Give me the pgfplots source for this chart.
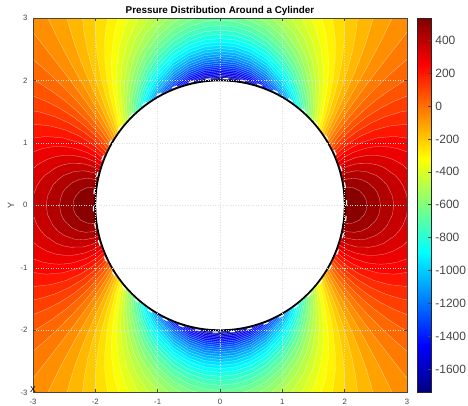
\documentclass[border=0pt]{standalone}
\usepackage{pgfplots}
\usepackage{fontspec}
\setmainfont{Liberation Sans}
\pgfplotsset{compat=1.18}
\definecolor{axc}{gray}{0.27}
\newcommand\band[4]{%
\addplot[fill={rgb,1:red,#1;green,#2;blue,#3},draw=white,draw opacity=0.6,line width=0.22pt] table[row sep=crcr,x expr=\thisrowno{0},y expr=\thisrowno{1}]{#4};
\addplot[fill={rgb,1:red,#1;green,#2;blue,#3},draw=white,draw opacity=0.6,line width=0.22pt] table[row sep=crcr,x expr=-\thisrowno{0},y expr=\thisrowno{1}]{#4};
\addplot[fill={rgb,1:red,#1;green,#2;blue,#3},draw=white,draw opacity=0.6,line width=0.22pt] table[row sep=crcr,x expr=\thisrowno{0},y expr=-\thisrowno{1}]{#4};
\addplot[fill={rgb,1:red,#1;green,#2;blue,#3},draw=white,draw opacity=0.6,line width=0.22pt] table[row sep=crcr,x expr=-\thisrowno{0},y expr=-\thisrowno{1}]{#4};
}
\begin{document}
\begin{tikzpicture}
\path[use as bounding box] (-24.75pt,-10pt) rectangle (326.25pt,294.5pt);
\begin{axis}[
 at={(0,0)},anchor=south west,scale only axis,width=280.5pt,height=281pt,
 xmin=-3,xmax=3,ymin=-3,ymax=3,
 xtick={-3,...,3},ytick={-3,...,3},
 grid=major,axis on top,
 grid style={color=black!12,line width=0.4pt,dash pattern=on 0.6pt off 1.3pt},
 tick align=inside,major tick length=2.4pt,
 tick style={color=axc,line width=0.45pt},
 axis line style={color=axc,line width=0.7pt},
 ticklabel style={font=\fontsize{5.8}{7}\selectfont,text=axc},
 /pgf/number format/assume math mode=true,
 xticklabel style={yshift=-1.2pt},
 yticklabel style={xshift=-0.6pt},
 title={\textbf{Pressure Distribution Around a Cylinder}},
 title style={font=\fontsize{7.4}{8}\selectfont,yshift=-7.5pt},
 ylabel={Y},ylabel style={font=\fontsize{6.8}{8}\selectfont,text=axc,at={(axis description cs:-0.059,0.5)},anchor=center},
 xlabel={X},xlabel style={font=\fontsize{6.4}{7}\selectfont,text=black,at={(axis description cs:0,0)},anchor=center,yshift=2.5pt},
 colormap/jet,point meta min=-1742,point meta max=535,
 colorbar,
 colorbar style={at={(parent axis.north east)},anchor=north west,xshift=-0.8pt,
  width=10.6pt,height=281pt,scale only axis,
  ytick={-1600,-1400,...,400},
  ytick pos=right,tick align=inside,yticklabel pos=right,
  major tick length=2.6pt,
  tick style={color=axc,line width=0.45pt},
  axis line style={color=black!85,line width=0.7pt},
  grid=none,
  yticklabel style={font=\fontsize{9}{10}\selectfont,text=axc,/pgf/number format/assume math mode=true,/pgf/number format/1000 sep={},xshift=-0.6pt},
 },
]
\addplot[draw=none,fill={rgb,1:red,1;green,0.480;blue,0}] coordinates {(-3,-3)(3,-3)(3,3)(-3,3)};
% right and left lobes, pressure above each level
\band{1}{0.402}{0}{3.6 -0.02\\3.6 2.462\\3.153 2.462\\2.959 2.303\\2.771 2.139\\2.587 1.968\\2.408 1.789\\2.234 1.603\\2.066 1.408\\1.936 1.242\\1.841 1.110\\1.749 0.970\\0 0\\}
\band{1}{0.324}{0}{3.6 -0.02\\3.6 2.082\\3.119 2.082\\2.901 1.959\\2.691 1.823\\2.489 1.675\\2.296 1.513\\2.112 1.338\\1.971 1.185\\1.869 1.062\\1.771 0.929\\0 0\\}
\band{1}{0.245}{0}{3.6 -0.02\\3.6 1.834\\3.271 1.834\\3.025 1.761\\2.790 1.666\\2.567 1.552\\2.356 1.418\\2.157 1.264\\2.006 1.126\\1.897 1.011\\1.793 0.886\\0 0\\}
\band{1}{0.167}{0}{3.6 -0.02\\3.6 1.538\\3.144 1.538\\2.887 1.493\\2.644 1.418\\2.415 1.315\\2.201 1.186\\2.039 1.063\\1.925 0.958\\1.815 0.840\\0 0\\}
\band{1}{0.088}{0}{3.6 -0.02\\3.6 1.277\\3.259 1.277\\2.980 1.298\\2.718 1.270\\2.472 1.204\\2.244 1.103\\2.073 0.997\\1.952 0.902\\1.836 0.792\\0 0\\}
\band{1}{0.010}{0}{3.93 -0.02\\3.93 0\\3.370 0.946\\3.070 1.066\\2.790 1.103\\2.528 1.081\\2.286 1.012\\2.106 0.925\\1.978 0.842\\1.858 0.741\\0 0\\}
\band{0.931}{0}{0}{3.569 -0.02\\3.569 0\\3.158 0.768\\3.006 0.853\\2.860 0.905\\2.719 0.934\\2.583 0.943\\2.453 0.935\\2.328 0.912\\2.138 0.848\\2.005 0.777\\1.879 0.686\\0 0\\}
\band{0.853}{0}{0}{3.272 -0.02\\3.272 0\\3.230 0.25\\3.115 0.470\\2.929 0.650\\2.780 0.733\\2.637 0.780\\2.500 0.801\\2.368 0.801\\2.170 0.763\\2.030 0.707\\1.899 0.626\\0 0\\}
\band{0.775}{0}{0}{3.015 -0.02\\3.015 0\\2.996 0.16\\2.933 0.320\\2.881 0.40\\2.809 0.481\\2.631 0.605\\2.518 0.648\\2.408 0.670\\2.201 0.667\\2.056 0.628\\1.920 0.560\\0 0\\}
\band{0.696}{0}{0}{2.787 -0.02\\2.787 0\\2.766 0.15\\2.680 0.324\\2.591 0.42\\2.504 0.480\\2.338 0.542\\2.181 0.553\\2.033 0.525\\1.940 0.485\\0 0\\}
\band{0.618}{0}{0}{2.574 -0.02\\2.574 0\\2.556 0.12\\2.524 0.20\\2.487 0.258\\2.372 0.363\\2.263 0.413\\2.157 0.431\\2.057 0.4245\\1.960 0.396\\0 0\\}
\band{0.539}{0}{0}{2.357 -0.02\\2.357 0\\2.346 0.08\\2.315 0.150\\2.238 0.2345\\2.131 0.284\\2.029 0.290\\1.980 0.280\\0 0\\}
% top and bottom lobes, pressure below each level
\band{1}{0.559}{0}{-0.02 3.8\\3.5 3.8\\3.135 2.943\\2.947 2.704\\2.791 2.505\\2.635 2.304\\2.479 2.102\\2.324 1.897\\2.170 1.688\\2.019 1.474\\1.900 1.296\\1.812 1.157\\1.726 1.010\\0 0\\}
\band{1}{0.637}{0}{-0.02 3.8\\2.855 3.8\\2.855 3.215\\2.726 2.927\\2.612 2.691\\2.491 2.458\\2.366 2.228\\2.237 1.999\\2.105 1.770\\1.971 1.538\\1.864 1.348\\1.783 1.201\\1.704 1.048\\0 0\\}
\band{1}{0.716}{0}{-0.02 3.8\\2.485 3.8\\2.485 3.134\\2.419 2.866\\2.339 2.604\\2.247 2.348\\2.146 2.096\\2.037 1.847\\1.922 1.599\\1.827 1.398\\1.754 1.244\\1.680 1.085\\0 0\\}
\band{1}{0.794}{0}{-0.02 3.8\\2.209 3.8\\2.209 3.030\\2.176 2.742\\2.122 2.461\\2.052 2.189\\1.967 1.922\\1.872 1.657\\1.789 1.446\\1.724 1.285\\1.657 1.120\\0 0\\}
\band{1}{0.873}{0}{-0.02 3.8\\1.978 3.8\\1.978 3.186\\2.000 2.872\\1.989 2.570\\1.953 2.278\\1.895 1.993\\1.820 1.714\\1.750 1.493\\1.693 1.325\\1.633 1.155\\0 0\\}
\band{1}{0.951}{0}{-0.02 3.8\\1.715 3.8\\1.715 3.335\\1.806 2.998\\1.847 2.674\\1.848 2.363\\1.819 2.062\\1.766 1.769\\1.710 1.538\\1.662 1.365\\1.609 1.188\\0 0\\}
\band{0.971}{1}{0.029}{-0.02 3.8\\1.590 3.8\\1.590 3.118\\1.692 2.775\\1.737 2.446\\1.740 2.129\\1.711 1.823\\1.670 1.582\\1.630 1.402\\1.584 1.221\\0 0\\}
\band{0.892}{1}{0.108}{-0.02 3.8\\1.339 3.8\\1.339 3.234\\1.522 2.872\\1.619 2.525\\1.658 2.194\\1.654 1.874\\1.628 1.625\\1.597 1.439\\1.559 1.253\\0 0\\}
\band{0.814}{1}{0.186}{-0.02 3.8\\1.028 3.8\\1.028 3.346\\1.330 2.965\\1.491 2.603\\1.571 2.257\\1.595 1.925\\1.585 1.666\\1.564 1.475\\1.534 1.283\\0 0\\}
\band{0.735}{1}{0.265}{-0.02 3.571\\0 3.571\\0.567 3.454\\1.105 3.056\\1.352 2.678\\1.479 2.318\\1.534 1.974\\1.541 1.707\\1.530 1.510\\1.508 1.314\\0 0\\}
\band{0.657}{1}{0.343}{-0.02 3.415\\0 3.415\\0.822 3.145\\1.196 2.751\\1.381 2.378\\1.471 2.022\\1.496 1.747\\1.496 1.544\\1.482 1.343\\0 0\\}
\band{0.578}{1}{0.422}{-0.02 3.279\\0 3.279\\0.358 3.231\\0.844 2.983\\1.016 2.823\\1.276 2.436\\1.404 2.069\\1.450 1.785\\1.460 1.578\\1.455 1.372\\0 0\\}
\band{0.5}{1}{0.5}{-0.02 3.161\\0 3.161\\0.25 3.137\\0.5 3.062\\0.75 2.926\\1 2.707\\1.2 2.426\\1.3 2.211\\1.4 1.834\\1.42 1.669\\1.428 1.400\\0 0\\}
\band{0.422}{1}{0.578}{-0.02 3.057\\0 3.057\\0.25 3.032\\0.5 2.955\\0.75 2.816\\1 2.588\\1.2 2.290\\1.3 2.051\\1.38 1.699\\1.400 1.428\\0 0\\}
\band{0.343}{1}{0.657}{-0.02 2.964\\0 2.964\\0.25 2.939\\0.5 2.860\\0.75 2.717\\1 2.482\\1.2 2.166\\1.3 1.898\\1.372 1.455\\0 0\\}
\band{0.265}{1}{0.735}{-0.02 2.881\\0 2.881\\0.25 2.855\\0.5 2.775\\0.75 2.629\\1 2.385\\1.15 2.155\\1.28 1.825\\1.343 1.482\\0 0\\}
\band{0.186}{1}{0.814}{-0.02 2.806\\0 2.806\\0.25 2.779\\0.5 2.698\\0.75 2.548\\1 2.297\\1.15 2.055\\1.25 1.802\\1.314 1.508\\0 0\\}
\band{0.108}{1}{0.892}{-0.02 2.737\\0 2.737\\0.25 2.711\\0.5 2.627\\0.75 2.475\\1 2.217\\1.1 2.061\\1.2 1.843\\1.283 1.534\\0 0\\}
\band{0.029}{1}{0.971}{-0.02 2.674\\0 2.674\\0.25 2.647\\0.5 2.563\\0.75 2.407\\1 2.142\\1.1 1.980\\1.2 1.748\\1.252 1.559\\0 0\\}
\band{0}{0.951}{1}{-0.02 2.617\\0 2.617\\0.25 2.589\\0.5 2.504\\0.75 2.345\\1 2.073\\1.1 1.905\\1.17 1.745\\1.221 1.584\\0 0\\}
\band{0}{0.873}{1}{-0.02 2.563\\0 2.563\\0.25 2.536\\0.5 2.449\\0.75 2.288\\1 2.009\\1.1 1.834\\1.188 1.609\\0 0\\}
\band{0}{0.794}{1}{-0.02 2.514\\0 2.514\\0.25 2.486\\0.5 2.398\\0.75 2.235\\1 1.949\\1.08 1.809\\1.155 1.633\\0 0\\}
\band{0}{0.716}{1}{-0.02 2.468\\0 2.468\\0.25 2.440\\0.5 2.351\\0.75 2.185\\1 1.893\\1.06 1.788\\1.120 1.657\\0 0\\}
\band{0}{0.637}{1}{-0.02 2.425\\0 2.425\\0.25 2.396\\0.5 2.306\\0.75 2.138\\1 1.840\\1.085 1.680\\0 0\\}
\band{0}{0.559}{1}{-0.02 2.384\\0 2.384\\0.25 2.356\\0.5 2.265\\0.75 2.095\\0.95 1.868\\1.048 1.704\\0 0\\}
\band{0}{0.480}{1}{-0.02 2.347\\0 2.347\\0.25 2.318\\0.5 2.226\\0.75 2.054\\0.92 1.866\\1.010 1.726\\0 0\\}
\band{0}{0.402}{1}{-0.02 2.311\\0 2.311\\0.25 2.282\\0.5 2.189\\0.75 2.015\\0.9 1.851\\0.970 1.749\\0 0\\}
\band{0}{0.324}{1}{-0.02 2.277\\0 2.277\\0.25 2.248\\0.5 2.154\\0.75 1.978\\0.929 1.771\\0 0\\}
\band{0}{0.245}{1}{-0.02 2.246\\0 2.246\\0.25 2.216\\0.5 2.122\\0.75 1.943\\0.886 1.793\\0 0\\}
\band{0}{0.167}{1}{-0.02 2.215\\0 2.215\\0.25 2.185\\0.5 2.090\\0.7 1.955\\0.840 1.815\\0 0\\}
\band{0}{0.088}{1}{-0.02 2.187\\0 2.187\\0.25 2.157\\0.5 2.061\\0.7 1.924\\0.792 1.836\\0 0\\}
\band{0}{0.010}{1}{-0.02 2.160\\0 2.160\\0.25 2.129\\0.5 2.033\\0.741 1.858\\0 0\\}
\band{0}{0}{0.931}{-0.02 2.134\\0 2.134\\0.25 2.103\\0.5 2.006\\0.686 1.879\\0 0\\}
\band{0}{0}{0.853}{-0.02 2.109\\0 2.109\\0.25 2.078\\0.5 1.980\\0.626 1.899\\0 0\\}
\band{0}{0}{0.775}{-0.02 2.085\\0 2.085\\0.25 2.054\\0.45 1.981\\0.560 1.920\\0 0\\}
\band{0}{0}{0.696}{-0.02 2.063\\0 2.063\\0.25 2.031\\0.485 1.940\\0 0\\}
\band{0}{0}{0.618}{-0.02 2.041\\0 2.041\\0.2 2.021\\0.396 1.960\\0 0\\}
\band{0}{0}{0.539}{-0.02 2.020\\0 2.020\\0.14 2.010\\0.280 1.980\\0 0\\}
\draw[white,line width=0.9pt,dash pattern=on 4pt off 9pt] (axis cs:0,0) ellipse [x radius=2.03,y radius=2.03];
\draw[black,fill=white,line width=1.3pt] (axis cs:0,0) ellipse [x radius=2,y radius=2];
\end{axis}
\end{tikzpicture}
\end{document}
